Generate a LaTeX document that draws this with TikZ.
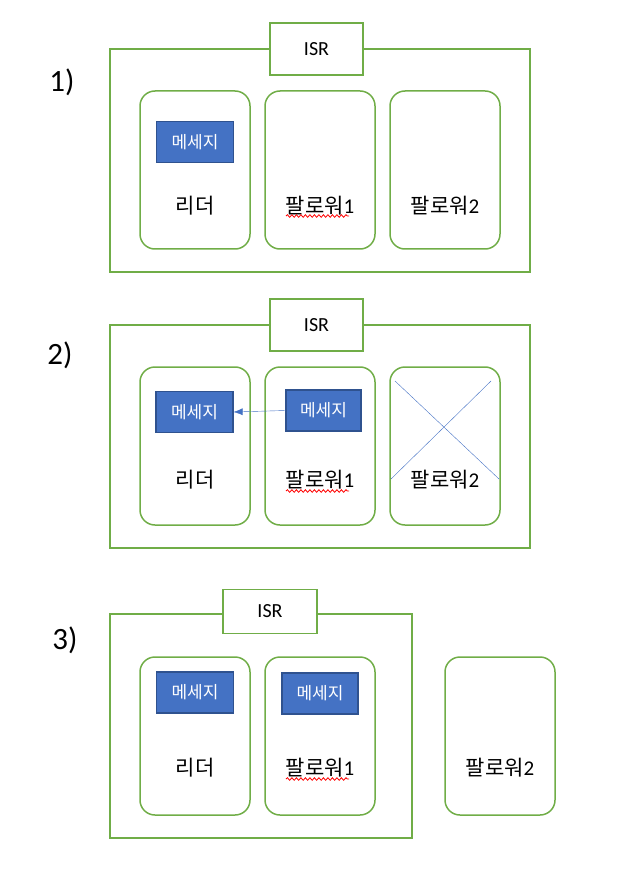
\documentclass[tikz,border=0pt]{standalone}
\usepackage{fontspec}
\setmainfont{Carlito}
\newfontfamily\kr{Noto Sans CJK KR}
\usetikzlibrary{positioning,arrows.meta,decorations.pathmorphing}
\definecolor{boxgreen}{HTML}{70AD47}
\definecolor{msgblue}{HTML}{4472C4}
\definecolor{msgline}{HTML}{2F528F}

\begin{document}
\begin{tikzpicture}[x=1pt,y=-1pt,node distance=15pt,>={Latex[length=9pt,width=7pt]},
  group/.style={draw=boxgreen,line width=1.5pt},
  isr/.style={draw=boxgreen,line width=1.5pt,fill=white,minimum width=93pt,minimum height=52pt,font=\fontsize{20}{22}\selectfont},
  broker/.style={draw=boxgreen,line width=1.5pt,rounded corners=15pt,outer sep=0pt,minimum width=110pt,minimum height=158pt},
  msg/.style={draw=msgline,line width=1.2pt,fill=msgblue,text=white,minimum width=77pt,minimum height=41pt,font=\kr\fontsize{17}{19}\selectfont},
  lbl/.style={font=\kr\fontsize{21}{23}\selectfont},
  num/.style={font=\fontsize{31}{33}\selectfont},
  typo/.style={draw=red,line width=0.8pt,decorate,decoration={snake,segment length=4.5pt,amplitude=1.3pt}}]
\useasboundingbox (0,0) rectangle (628,890);

% 1)
\node[num] (n1) at (62,82) {1)};
\draw[group] (110,49) rectangle (530,272);
\node[isr] (isr1) at (316.5,49) {ISR};
\node[broker] (lead1) at (195,170) {};
\node[broker,right=of lead1] (foll11) {};
\node[broker,right=of foll11] (foll12) {};
\node[msg,below=30pt of lead1.north] (msg1) {메세지};
\node[lbl] (lead1lbl) at ([yshift=-36pt]lead1.center) {리더};
\node[lbl] (foll11lbl) at ([yshift=-36pt]foll11.center) {팔로워{\rmfamily 1}};
\node[lbl] (foll12lbl) at ([yshift=-36pt]foll12.center) {팔로워{\rmfamily 2}};
\draw[typo] (286,216) -- (349,216);

% 2)
\node[num] (n2) at (60,355) {2)};
\draw[group] (110,325) rectangle (530,548);
\node[isr] (isr2) at (316.5,325) {ISR};
\node[broker] (lead2) at (195,446) {};
\node[broker,right=of lead2] (foll21) {};
\node[broker,right=of foll21] (foll22) {};
\node[msg] (msg20) at (194.5,412) {메세지};
\node[msg,minimum width=75pt] (msg21) at (323.5,410.5) {메세지};
\node[lbl] (lead2lbl) at ([yshift=-34pt]lead2.center) {리더};
\node[lbl] (foll21lbl) at ([yshift=-34pt]foll21.center) {팔로워{\rmfamily 1}};
\node[lbl] (foll22lbl) at ([yshift=-34pt]foll22.center) {팔로워{\rmfamily 2}};
\draw[typo] (286,491) -- (349,491);
\draw[->,msgblue] (msg21.west) -- (msg20.east);
\draw[msgblue] (395,381) -- (499,479);
\draw[msgblue] (491,381) -- (391,479);

% 3)
\node[num] (n3) at (65,640) {3)};
\draw[group] (110,614) rectangle (412,838);
\node[isr,minimum width=94pt,minimum height=44pt] (isr3) at (270,611.5) {ISR};
\node[broker] (lead3) at (195,736) {};
\node[broker,right=of lead3] (foll31) {};
\node[broker] (foll32) at (500,736) {};
\node[msg] (msg30) at (195,692.5) {메세지};
\node[msg,minimum width=76pt] (msg31) at (320,693.5) {메세지};
\node[lbl] (lead3lbl) at ([yshift=-32pt]lead3.center) {리더};
\node[lbl] (foll31lbl) at ([yshift=-32pt]foll31.center) {팔로워{\rmfamily 1}};
\node[lbl] (foll32lbl) at ([yshift=-32pt]foll32.center) {팔로워{\rmfamily 2}};
\draw[typo] (286,779) -- (349,779);
\end{tikzpicture}
\end{document}
